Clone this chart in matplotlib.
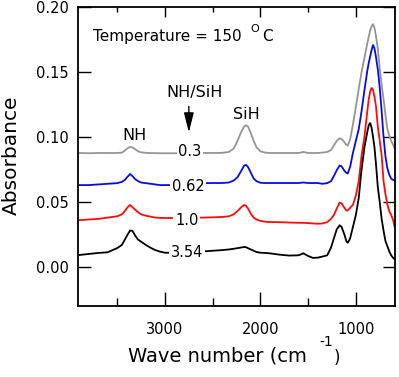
import matplotlib
matplotlib.use("Agg")
import matplotlib.pyplot as plt

# ---------------- data ----------------
wavenumber = [3900, 3800, 3700, 3600, 3500, 3450, 3420, 3390, 3365, 3340, 3310, 3280,
              3250, 3200, 3150, 3100, 3050, 3000, 2900, 2800, 2700, 2600, 2500, 2400,
              2330, 2280, 2240, 2200, 2170, 2150, 2130, 2100, 2070, 2040, 2000, 1950,
              1900, 1800, 1700, 1600, 1550, 1500, 1450, 1400, 1350, 1300, 1260, 1230,
              1200, 1170, 1150, 1120, 1100, 1085, 1060, 1030, 1000, 970, 940, 910,
              880, 865, 850, 835, 820, 805, 790, 770, 750, 730, 710, 690, 670, 650,
              630, 610, 595]

abs_0_3 = [0.0877, 0.0875, 0.0877, 0.0877, 0.0877, 0.0880, 0.0895, 0.0915, 0.0923, 0.0920, 0.0905, 0.0890,
           0.0882, 0.0878, 0.0876, 0.0876, 0.0875, 0.0875, 0.0875, 0.0875, 0.0876, 0.0877, 0.0877, 0.0878,
           0.0885, 0.0910, 0.0970, 0.1040, 0.1080, 0.1090, 0.1080, 0.1030, 0.0970, 0.0920, 0.0890, 0.0880,
           0.0877, 0.0877, 0.0877, 0.0877, 0.0885, 0.0877, 0.0877, 0.0877, 0.0880, 0.0885, 0.0900, 0.0935,
           0.0970, 0.0990, 0.0985, 0.0960, 0.0940, 0.0935, 0.0980, 0.1100, 0.1230, 0.1370, 0.1500, 0.1610,
           0.1720, 0.1770, 0.1820, 0.1850, 0.1870, 0.1840, 0.1780, 0.1680, 0.1530, 0.1400, 0.1290, 0.1170,
           0.1060, 0.1010, 0.0970, 0.0940, 0.0915]

abs_0_62 = [0.0630, 0.0630, 0.0635, 0.0640, 0.0645, 0.0655, 0.0670, 0.0695, 0.0715, 0.0700, 0.0675, 0.0660,
            0.0650, 0.0645, 0.0640, 0.0635, 0.0630, 0.0630, 0.0630, 0.0635, 0.0640, 0.0645, 0.0646, 0.0646,
            0.0650, 0.0665, 0.0690, 0.0740, 0.0780, 0.0785, 0.0770, 0.0725, 0.0680, 0.0660, 0.0648, 0.0646,
            0.0646, 0.0646, 0.0646, 0.0646, 0.0650, 0.0646, 0.0646, 0.0646, 0.0640, 0.0645, 0.0660, 0.0700,
            0.0745, 0.0780, 0.0775, 0.0740, 0.0725, 0.0720, 0.0770, 0.0880, 0.0970, 0.1060, 0.1200, 0.1360,
            0.1510, 0.1570, 0.1620, 0.1670, 0.1710, 0.1680, 0.1620, 0.1520, 0.1380, 0.1200, 0.1000, 0.0850,
            0.0760, 0.0710, 0.0680, 0.0670, 0.0670]

abs_1_0 = [0.0360, 0.0365, 0.0370, 0.0380, 0.0390, 0.0405, 0.0430, 0.0460, 0.0477, 0.0460, 0.0440, 0.0420,
           0.0405, 0.0395, 0.0387, 0.0380, 0.0378, 0.0377, 0.0377, 0.0378, 0.0380, 0.0380, 0.0382, 0.0385,
           0.0390, 0.0405, 0.0430, 0.0460, 0.0477, 0.0470, 0.0450, 0.0410, 0.0380, 0.0365, 0.0355, 0.0348,
           0.0346, 0.0345, 0.0342, 0.0340, 0.0340, 0.0338, 0.0335, 0.0333, 0.0335, 0.0345, 0.0370, 0.0400,
           0.0450, 0.0495, 0.0490, 0.0455, 0.0435, 0.0435, 0.0455, 0.0480, 0.0550, 0.0660, 0.0860, 0.1000,
           0.1200, 0.1290, 0.1350, 0.1380, 0.1360, 0.1310, 0.1240, 0.1080, 0.0970, 0.0860, 0.0660, 0.0560,
           0.0480, 0.0430, 0.0400, 0.0360, 0.0310]

abs_3_54 = [0.0092, 0.0100, 0.0108, 0.0113, 0.0145, 0.0170, 0.0210, 0.0250, 0.0280, 0.0278, 0.0240, 0.0210,
            0.0195, 0.0170, 0.0148, 0.0130, 0.0118, 0.0110, 0.0108, 0.0110, 0.0115, 0.0120, 0.0125, 0.0130,
            0.0135, 0.0140, 0.0145, 0.0150, 0.0154, 0.0152, 0.0145, 0.0135, 0.0125, 0.0115, 0.0110, 0.0108,
            0.0105, 0.0095, 0.0088, 0.0090, 0.0105, 0.0085, 0.0070, 0.0072, 0.0080, 0.0090, 0.0150, 0.0220,
            0.0290, 0.0320, 0.0310, 0.0250, 0.0200, 0.0185, 0.0220, 0.0310, 0.0400, 0.0530, 0.0750, 0.0920,
            0.1040, 0.1090, 0.1110, 0.1070, 0.1000, 0.0920, 0.0800, 0.0615, 0.0500, 0.0370, 0.0280, 0.0200,
            0.0160, 0.0120, 0.0090, 0.0070, 0.0060]

ratio_labels = ["0.3", "0.62", "1.0", "3.54"]
series = [abs_0_3, abs_0_62, abs_1_0, abs_3_54]
colors = ["#959595", "#0a0ae6", "#ff0a0a", "#000000"]

x_major = [3000, 2000, 1000]
x_minor = [3500, 2500, 1500]
y_major = [0.00, 0.05, 0.10, 0.15, 0.20]

# ---------------- figure ----------------
W, H = 399, 377
fig = plt.figure(figsize=(W / 100, H / 100), dpi=100)
ax = fig.add_axes([78 / W, 1 - 306 / H, (395 - 78) / W, (306 - 7) / H])

for y, c in zip(series, colors):
    ax.plot(wavenumber, y, color=c, lw=1.3, solid_joinstyle="miter")

ax.set_xlim(3910, 590)
ax.set_ylim(-0.03, 0.20)

ax.set_xticks(x_major)
ax.set_xticks(x_minor, minor=True)
ax.set_xticklabels([str(v) for v in x_major])
ax.set_yticks(y_major)
ax.set_yticklabels(["%.2f" % v for v in y_major])

ax.tick_params(axis="x", which="major", direction="in", length=10, width=1.0,
               pad=11.5, labelsize=10.5, top=False)
ax.tick_params(axis="x", which="minor", direction="in", length=5.8, width=1.0, top=False)
ax.tick_params(axis="y", which="major", direction="in", length=9, width=1.0,
               pad=6.5, labelsize=10.5, left=True, right=True)

sec = ax.secondary_xaxis("top")
sec.set_xticks(x_major)
sec.set_xticks(x_minor, minor=True)
sec.tick_params(axis="x", which="major", direction="in", length=7, width=1.0, labeltop=False)
sec.tick_params(axis="x", which="minor", direction="in", length=3.6, width=1.0)
sec.spines["top"].set_visible(False)

for s in ax.spines.values():
    s.set_linewidth(1.3)

# ratio labels on the curves
label_pos = [(2738, 0.0885), (2759, 0.0623), (2770, 0.0360), (2770, 0.0108)]
for (lx, ly), txt in zip(label_pos, ratio_labels):
    ax.text(lx, ly, txt, ha="center", va="center", fontsize=10.5, color="black",
            bbox=dict(boxstyle="square,pad=0.12", fc="white", ec="none"), zorder=5)

ax.text(2686, 0.1346, "NH/SiH", ha="center", va="center", fontsize=11.5)
ax.annotate("", xy=(2749, 0.1035), xytext=(2749, 0.1235),
            arrowprops=dict(arrowstyle="-|>,head_length=1.2,head_width=0.3",
                            color="black", lw=1.0, shrinkA=0, shrinkB=0))
ax.text(2147, 0.117, "SiH", ha="center", va="center", fontsize=11.5)
ax.text(3314, 0.1015, "NH", ha="center", va="center", fontsize=11.5)

ax.text(3754, 0.1775, "Temperature = 150", ha="left", va="center", fontsize=11)
ax.text(2058, 0.183, "O", ha="center", va="center", fontsize=8)
ax.text(1921, 0.1770, "C", ha="center", va="center", fontsize=11)

# axis titles
fig.text(128 / W, 1 - 362 / H, "Wave number (cm", ha="left", va="baseline", fontsize=14)
fig.text(326 / W, 1 - 342 / H, "-1", ha="center", va="center", fontsize=10)
fig.text(334 / W, 1 - 363 / H, ")", ha="left", va="baseline", fontsize=12)
fig.text(11 / W, 1 - 155 / H, "Absorbance", ha="center", va="center",
         rotation=90, fontsize=14.5)

fig.savefig("out.png", dpi=100)
